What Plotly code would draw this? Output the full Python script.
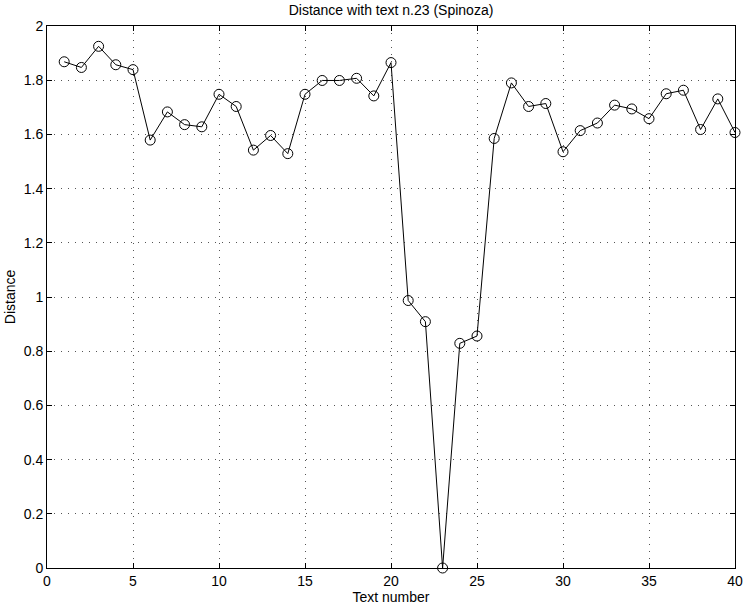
import plotly.graph_objects as go

text_number = list(range(1, 41))
distance = [1.868, 1.847, 1.925, 1.857, 1.839, 1.579, 1.683, 1.636, 1.628, 1.748,
            1.703, 1.542, 1.596, 1.529, 1.748, 1.799, 1.799, 1.807, 1.742, 1.865,
            0.987, 0.909, 0.0, 0.829, 0.856, 1.585, 1.790, 1.703, 1.714, 1.536,
            1.614, 1.642, 1.708, 1.694, 1.658, 1.750, 1.763, 1.618, 1.731, 1.607]

x_ticks = [0, 5, 10, 15, 20, 25, 30, 35, 40]
y_ticks = [0, 0.2, 0.4, 0.6, 0.8, 1, 1.2, 1.4, 1.6, 1.8, 2]
y_tick_text = ["0", "0.2", "0.4", "0.6", "0.8", "1", "1.2", "1.4", "1.6", "1.8", "2"]

font = dict(family="Liberation Sans, Arial, Helvetica, sans-serif", size=14, color="black")

fig = go.Figure(go.Scatter(
    x=text_number, y=distance, mode="lines+markers",
    line=dict(color="black", width=1),
    marker=dict(symbol="circle-open", size=10, color="black", line=dict(width=1, color="black")),
    showlegend=False, cliponaxis=False,
))

axis_common = dict(
    showline=True, linecolor="black", linewidth=1, mirror="ticks",
    ticks="inside", ticklen=5, tickcolor="black", tickwidth=1,
    showgrid=True, gridcolor="#555555", gridwidth=1, griddash="1px,6px",
    zeroline=False, tickfont=font, automargin=False,
)

fig.update_layout(
    width=744, height=610,
    margin=dict(l=47, r=9, t=26, b=42),
    paper_bgcolor="white", plot_bgcolor="white",
    font=font,
    title=dict(text="Distance with text n.23 (Spinoza)", x=0.5, xref="paper",
               y=1 - 10 / 610, yref="container", yanchor="middle", xanchor="center",
               font=dict(family=font["family"], size=14, color="black")),
    xaxis=dict(range=[0, 40], tickvals=x_ticks,
               title=dict(text="Text number", standoff=2, font=font), **axis_common),
    yaxis=dict(range=[0, 2], tickvals=y_ticks, ticktext=y_tick_text,
               title=dict(text="Distance", standoff=4, font=font), **axis_common),
)

fig.write_html(
    "out.html",
    config={"displayModeBar": False},
    post_script="document.body.style.margin='0';document.body.style.overflow='hidden';",
)
